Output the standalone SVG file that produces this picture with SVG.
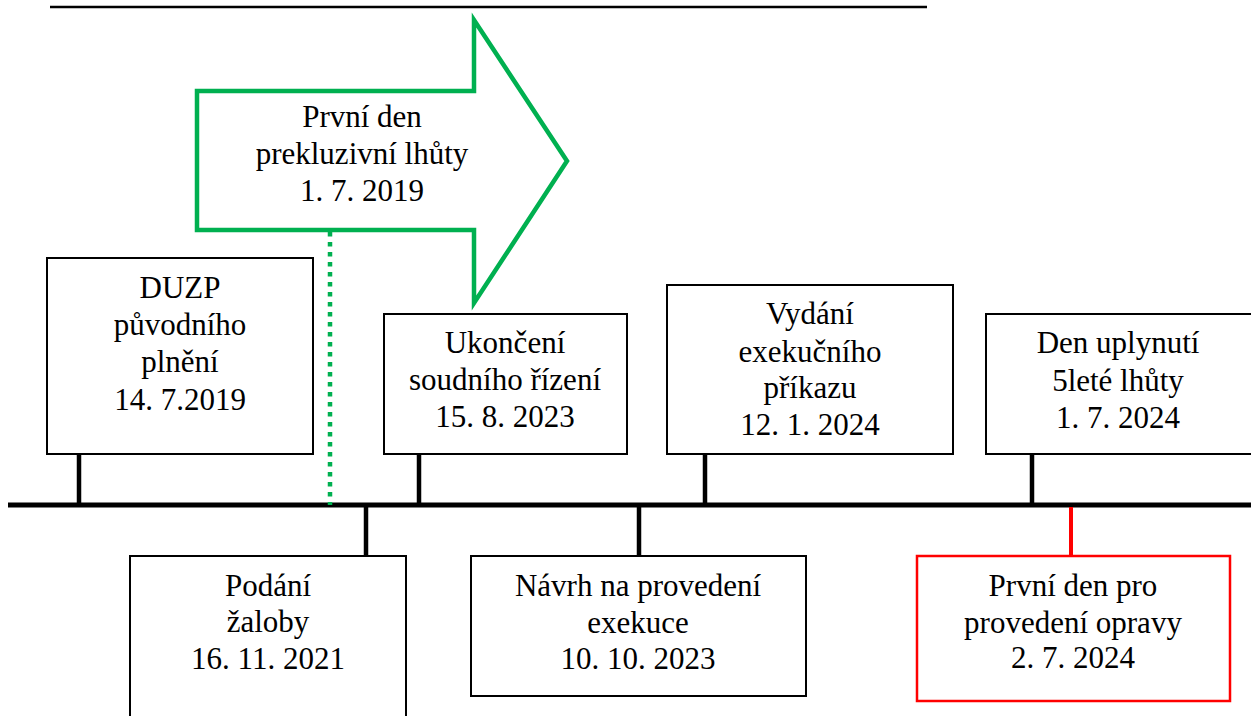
<svg xmlns="http://www.w3.org/2000/svg" width="1251" height="716" viewBox="0 0 1251 716">
<style>
.box{fill:#fff;stroke:#000;stroke-width:2}
.rbox{fill:#fff;stroke:#ff0000;stroke-width:2.5}
.stem{stroke:#000;stroke-width:4.5}
text{font-family:'Liberation Serif','Times New Roman','DejaVu Serif',serif;font-size:31px;fill:#000;text-anchor:middle}
</style>
<rect width="1251" height="716" fill="#fff"/>
<line x1="50" y1="7" x2="927" y2="7" stroke="#000" stroke-width="2.5"/>
<g id="connectors">
<line x1="8" y1="505" x2="1251" y2="505" stroke="#000" stroke-width="5"/>
<line class="stem" x1="79" y1="454" x2="79" y2="505"/>
<line class="stem" x1="419" y1="454" x2="419" y2="505"/>
<line class="stem" x1="705" y1="454" x2="705" y2="505"/>
<line class="stem" x1="1032" y1="454" x2="1032" y2="505"/>
<line class="stem" x1="366" y1="505" x2="366" y2="556"/>
<line class="stem" x1="639" y1="505" x2="639" y2="556"/>
<line x1="1071" y1="507" x2="1071" y2="556" stroke="#ff0000" stroke-width="4"/>
<line x1="330" y1="232" x2="330" y2="505" stroke="#00b050" stroke-width="4.5" stroke-dasharray="4.5 5.5"/>
</g>
<g id="arrow" font-family="Liberation Serif, serif">
<polygon points="197,91 474,91 474,20 567,161 474,303 474,230 197,230" fill="#fff" stroke="#00b050" stroke-width="4.5"/>
<text x="362" y="127">První den</text>
<text x="362" y="164">prekluzivní lhůty</text>
<text x="362" y="201">1. 7. 2019</text>
</g>
<g id="duzp">
<rect class="box" x="47" y="258" width="266" height="196"/>
<text x="180" y="298">DUZP</text>
<text x="180" y="335">původního</text>
<text x="180" y="372">plnění</text>
<text x="180" y="410">14. 7.2019</text>
</g>
<g id="ukonceni">
<rect class="box" x="384" y="314" width="243" height="140"/>
<text x="505" y="353">Ukončení</text>
<text x="505" y="390">soudního řízení</text>
<text x="505" y="427">15. 8. 2023</text>
</g>
<g id="vydani">
<rect class="box" x="667" y="285" width="286" height="169"/>
<text x="810" y="324">Vydání</text>
<text x="810" y="362">exekučního</text>
<text x="810" y="398">příkazu</text>
<text x="810" y="435">12. 1. 2024</text>
</g>
<g id="den">
<rect class="box" x="986" y="314" width="300" height="140"/>
<text x="1118" y="353">Den uplynutí</text>
<text x="1118" y="391">5leté lhůty</text>
<text x="1118" y="428">1. 7. 2024</text>
</g>
<g id="podani">
<rect class="box" x="130" y="556" width="276" height="200"/>
<text x="268" y="596">Podání</text>
<text x="268" y="632">žaloby</text>
<text x="268" y="669">16. 11. 2021</text>
</g>
<g id="navrh">
<rect class="box" x="471" y="556" width="335" height="140"/>
<text x="638" y="596">Návrh na provedení</text>
<text x="638" y="633">exekuce</text>
<text x="638" y="669">10. 10. 2023</text>
</g>
<g id="oprava">
<rect class="rbox" x="917" y="556" width="313" height="145"/>
<text x="1073" y="596">První den pro</text>
<text x="1073" y="633">provedení opravy</text>
<text x="1073" y="668">2. 7. 2024</text>
</g>
</svg>
